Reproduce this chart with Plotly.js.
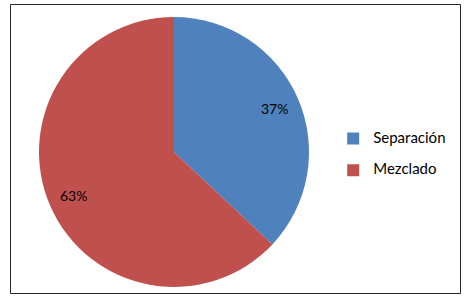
<!DOCTYPE html>
<html>
<head>
<meta charset="utf-8">
<script src="https://cdn.plot.ly/plotly-3.0.1.min.js"></script>
<style>html,body{margin:0;padding:0;background:#fff;}#chart{width:466px;height:301px;}</style>
</head>
<body>
<div id="chart"></div>
<script>
const categories = ["Separación", "Mezclado"];
const values = [37, 63];
const colors = ["#4F81BD", "#C0504D"];

const FONT = "Lato, 'Open Sans', sans-serif";
const total = values.reduce((a, b) => a + b, 0);

// pie geometry (matches domain below)
const domX = [39/466, 309/466], domY = [14/301, 284/301];
const cx = (domX[0] + domX[1]) / 2, cy = (domY[0] + domY[1]) / 2;
const R = 135; // px radius
const labelFrac = 0.81;

const trace = {
  type: "pie",
  labels: categories.map(c => "<span style='font-size:15px'>" + c + "</span><br> "),
  values: values,
  marker: {colors: colors, line: {width: 0}},
  sort: false,
  direction: "clockwise",
  rotation: 0,
  textinfo: "none",
  domain: {x: domX, y: domY},
  hoverinfo: "label+percent"
};

// percent labels along each slice bisector
let cum = 0;
const annotations = values.map((v, i) => {
  const mid = (cum + v / 2) / total * 2 * Math.PI;
  cum += v;
  const dx = Math.sin(mid) * R * labelFrac, dy = Math.cos(mid) * R * labelFrac;
  return {
    xref: "paper", yref: "paper",
    x: cx + dx / 466, y: cy + dy / 301,
    xanchor: "center", yanchor: "middle",
    text: Math.round(v / total * 100) + "%",
    showarrow: false,
    font: {family: FONT, size: 14, color: "#000"}
  };
});

const layout = {
  width: 466, height: 301,
  margin: {l: 0, r: 0, t: 0, b: 0},
  paper_bgcolor: "#fff",
  showlegend: true,
  legend: {
    x: 0.715, y: 0.585, xanchor: "left", yanchor: "top",
    valign: "top",
    font: {family: FONT, size: 11, color: "#000"},
    bgcolor: "rgba(0,0,0,0)"
  },
  annotations: annotations,
  shapes: [{
    type: "rect", xref: "paper", yref: "paper",
    x0: 10.5/466, x1: 460.5/466, y0: 1 - 293.5/301, y1: 1 - 4.5/301,
    line: {color: "#262626", width: 1}
  }]
};

Plotly.newPlot("chart", [trace], layout, {displayModeBar: false, staticPlot: true});
</script>
</body>
</html>
